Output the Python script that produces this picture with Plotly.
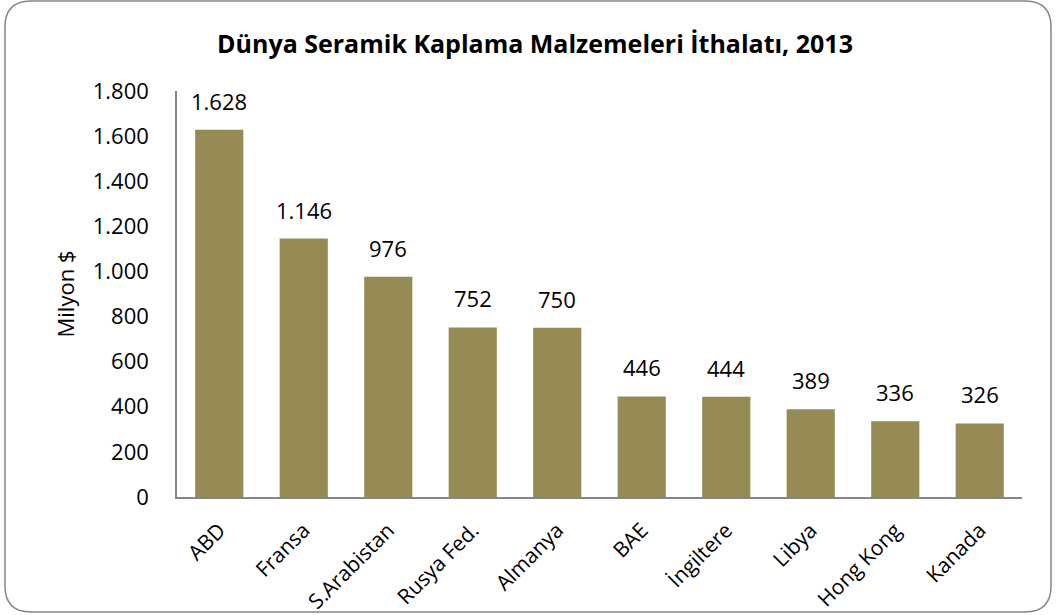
import plotly.graph_objects as go

categories = ["ABD", "Fransa", "S.Arabistan", "Rusya Fed.", "Almanya", "BAE", "İngiltere", "Libya", "Hong Kong", "Kanada"]
values = [1628, 1146, 976, 752, 750, 446, 444, 389, 336, 326]
y_ticks = [0, 200, 400, 600, 800, 1000, 1200, 1400, 1600, 1800]

W, H = 1056, 615
ml, mr, mt, mb = 177, 34, 91, 118
pw, ph = W - ml - mr, H - mt - mb

def px(x):
    return (x - ml) / pw

def py(y):
    return (H - mb - y) / ph

x0, y0, x1, y1, r = 5, 1, 1051, 612, 26
path = (
    f"M {px(x0 + r)} {py(y0)} L {px(x1 - r)} {py(y0)} "
    f"Q {px(x1)} {py(y0)} {px(x1)} {py(y0 + r)} "
    f"L {px(x1)} {py(y1 - r)} "
    f"Q {px(x1)} {py(y1)} {px(x1 - r)} {py(y1)} "
    f"L {px(x0 + r)} {py(y1)} "
    f"Q {px(x0)} {py(y1)} {px(x0)} {py(y1 - r)} "
    f"L {px(x0)} {py(y0 + r)} "
    f"Q {px(x0)} {py(y0)} {px(x0 + r)} {py(y0)} Z"
)

font_family = "'Open Sans', sans-serif"

fig = go.Figure(
    go.Bar(
        x=categories,
        y=values,
        marker=dict(color="#968B55", line=dict(width=0)),
        hoverinfo="x+y",
    )
)

annotations = [
    dict(
        x=c,
        y=v,
        xref="x",
        yref="y",
        text=f"{v:,d}".replace(",", "."),
        showarrow=False,
        yanchor="bottom",
        yshift=12,
        font=dict(size=22, family=font_family, color="#000000"),
    )
    for c, v in zip(categories, values)
]

fig.update_layout(
    width=W,
    height=H,
    margin=dict(l=ml, r=mr, t=mt, b=mb, autoexpand=False),
    paper_bgcolor="white",
    plot_bgcolor="white",
    separators=",.",
    bargap=0.43,
    showlegend=False,
    font=dict(family=font_family, size=20, color="#000000"),
    title=dict(
        text="<b>Dünya Seramik Kaplama Malzemeleri İthalatı, 2013</b>",
        x=535 / W,
        xanchor="center",
        xref="container",
        y=1 - 44 / H,
        yanchor="middle",
        font=dict(size=25, family=font_family, color="#000000"),
    ),
    xaxis=dict(
        tickangle=-45,
        showline=True,
        linecolor="#868686",
        linewidth=1.5,
        ticks="",
        ticklabelstandoff=11,
        tickfont=dict(size=21, family=font_family),
        showgrid=False,
        automargin=False,
    ),
    yaxis=dict(
        range=[0, 1800],
        tickvals=y_ticks,
        tickformat=",d",
        showline=True,
        linecolor="#868686",
        linewidth=1.5,
        ticks="",
        ticklabelstandoff=22,
        showgrid=False,
        zeroline=False,
        automargin=False,
        tickfont=dict(size=22, family=font_family),
        title=dict(text="Milyon $", font=dict(size=22, family=font_family), standoff=12),
    ),
    annotations=annotations,
    shapes=[
        dict(
            type="path",
            path=path,
            xref="paper",
            yref="paper",
            line=dict(color="#868686", width=1.5),
            fillcolor="rgba(0,0,0,0)",
            layer="below",
        )
    ],
)

fig.write_html(
    "out.html",
    config={"displayModeBar": False},
    post_script="document.body.style.margin='0';document.body.style.overflow='hidden';",
)
